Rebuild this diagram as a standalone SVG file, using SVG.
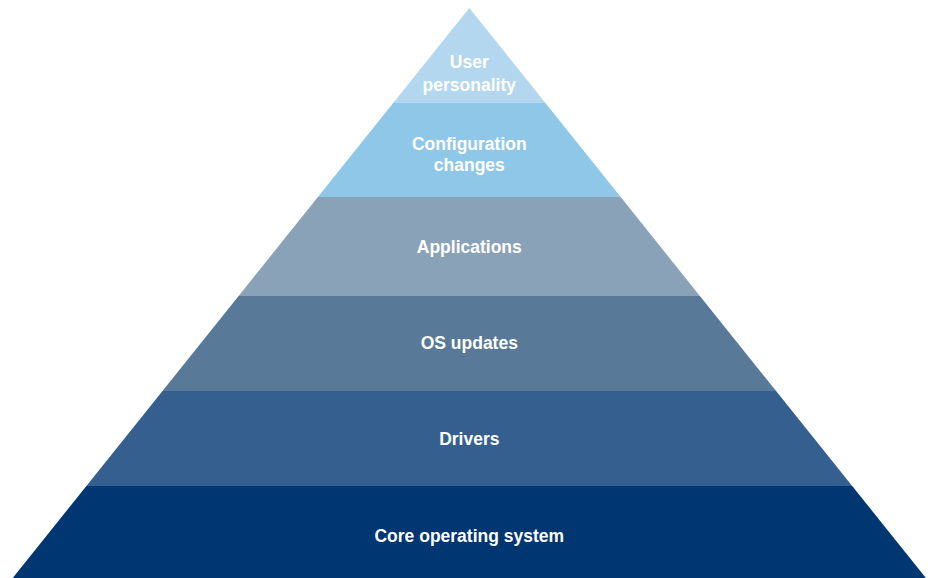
<svg xmlns="http://www.w3.org/2000/svg" width="935" height="578" viewBox="0 0 935 578">
  <style>
    .label { font-family: "Liberation Sans", Arial, sans-serif; font-weight: 700; font-size: 17.5px; fill: #ffffff; text-anchor: middle; }
  </style>
  <rect width="935" height="578" fill="#ffffff"/>
  <g id="tiers">
    <g id="user-personality">
      <polygon points="469.3,8 545.4,103 393.2,103" fill="#b2d7ee"/>
      <text class="label" x="469.3" y="68">User</text>
      <text class="label" x="469.3" y="90.5">personality</text>
    </g>
    <g id="configuration-changes">
      <polygon points="393.2,103 545.4,103 620.7,197 317.9,197" fill="#8fc7e8"/>
      <text class="label" x="469.3" y="150">Configuration</text>
      <text class="label" x="469.3" y="171">changes</text>
    </g>
    <g id="applications">
      <polygon points="317.9,197 620.7,197 699.9,296 238.6,296" fill="#8aa2b8"/>
      <text class="label" x="469.3" y="253">Applications</text>
    </g>
    <g id="os-updates">
      <polygon points="238.6,296 699.9,296 776.1,391 162.5,391" fill="#587997"/>
      <text class="label" x="469.3" y="349">OS updates</text>
    </g>
    <g id="drivers">
      <polygon points="162.5,391 776.1,391 852.2,486 86.4,486" fill="#355f8e"/>
      <text class="label" x="469.3" y="445">Drivers</text>
    </g>
    <g id="core-operating-system">
      <polygon points="86.4,486 852.2,486 925.9,578 12.7,578" fill="#003671"/>
      <text class="label" x="469.3" y="542">Core operating system</text>
    </g>
  </g>
  <g id="connectors"/>
</svg>
